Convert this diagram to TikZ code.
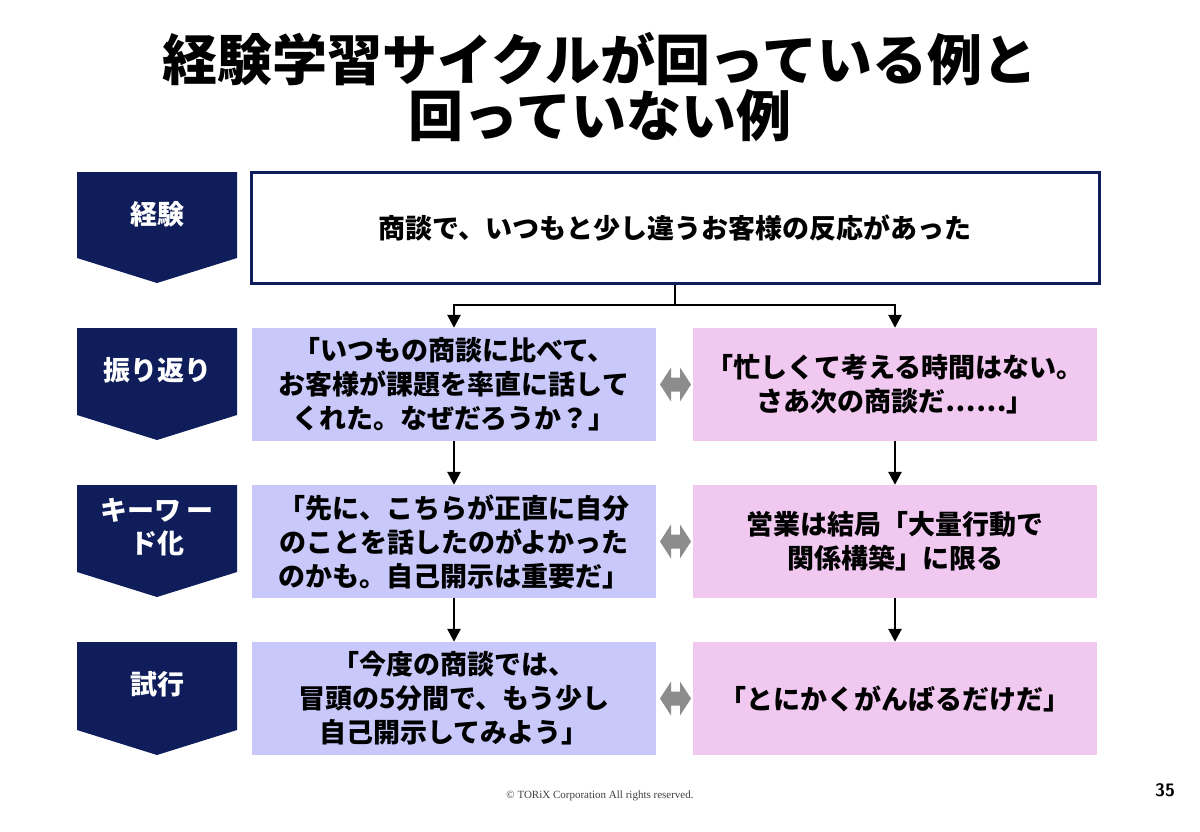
\documentclass[tikz,border=0pt]{standalone}
\usepackage{fontspec}
\setmainfont{Liberation Serif}
\newfontfamily\jp{Noto Sans CJK JP}
\usetikzlibrary{arrows.meta}
\definecolor{navy}{HTML}{0F1E5A}
\definecolor{lilac}{HTML}{C8C8FA}
\definecolor{pinkish}{HTML}{F0C8F0}
\tikzset{
  stage/.style={fill=navy},
  stagetext/.style={text=white, font=\jp\bfseries\fontsize{27}{33}\selectfont, align=center},
  good/.style={fill=lilac, minimum width=404pt, minimum height=113pt, font=\jp\bfseries\fontsize{27}{34}\selectfont, align=center},
  bad/.style={fill=pinkish, minimum width=404pt, minimum height=113pt, font=\jp\bfseries\fontsize{27}{34}\selectfont, align=center},
  flow/.style={line width=2.6pt, -{Triangle[length=13pt,width=13pt]}},
  versus/.style={fill=gray!90}
}
\newcommand{\stagechevron}[3]{% top, rect bottom, label
  \fill[stage] (77,#1) -- (237,#1) -- (237,#2) -- (157,#2+25) -- (77,#2) -- cycle;
  \node[stagetext] at (157,#1+42) {#3};}
\newcommand{\versusmark}[1]{%
  \fill[versus] (660,#1) -- (671,#1-17) -- (671,#1-7) -- (680,#1-7) -- (680,#1-17) -- (691,#1)
    -- (680,#1+17) -- (680,#1+7) -- (671,#1+7) -- (671,#1+17) -- cycle;}
\begin{document}
\begin{tikzpicture}[x=1pt,y=-1pt]
\useasboundingbox[fill=white] (0,0) rectangle (1200,831);

\node[font=\jp\bfseries\fontsize{55}{56}\selectfont, align=center] (title) at (600,87)
  {経験学習サイクルが回っている例と\\回っていない例};

% stages
\stagechevron{172}{258}{経験}
\stagechevron{328}{415}{振り返り}
\stagechevron{485}{572}{キーワ\,ー\\ド化}
\stagechevron{642}{730}{試行}

\node[draw=navy, line width=3pt, minimum width=848pt, minimum height=111pt,
  font=\jp\bfseries\fontsize{27}{30}\selectfont] (exp) at (675,228)
  {商談で、いつもと少し違うお客様の反応があった};

\node[good] (g1) at (454,384.5) {「いつもの商談に比べて、\\お客様が課題を率直に話して\\くれた。なぜだろうか？」};
\node[good] (g2) at (454,541.5) {「先に、こちらが正直に自分\\のことを話したのがよかった\\のかも。自己開示は重要だ」};
\node[good] (g3) at (454,698.5) {「今度の商談では、\\冒頭の5分間で、もう少し\\自己開示してみよう」};
\node[bad] (b1) at (895,384.5) {「忙しくて考える時間はない。\\さあ次の商談だ……」};
\node[bad] (b2) at (895,541.5) {営業は結局「大量行動で\\関係構築」に限る};
\node[bad] (b3) at (895,698.5) {「とにかくがんばるだけだ」};

\coordinate (split) at (675,305);
\draw[line width=2.6pt] (exp.south) -- (split);
\draw[flow] (split) -| (g1.north);
\draw[flow] (split) -| (b1.north);
\draw[flow] (g1) -- (g2);
\draw[flow] (g2) -- (g3);
\draw[flow] (b1) -- (b2);
\draw[flow] (b2) -- (b3);

\versusmark{384.5}
\versusmark{541.5}
\versusmark{698.5}

\node[font=\fontsize{11}{13}\selectfont, text=black!75] (copy) at (600,796) {© TORiX Corporation All rights reserved.};
\node[font=\sffamily\bfseries\fontsize{18}{20}\selectfont] (page) at (1165,790) {35};
\end{tikzpicture}
\end{document}
